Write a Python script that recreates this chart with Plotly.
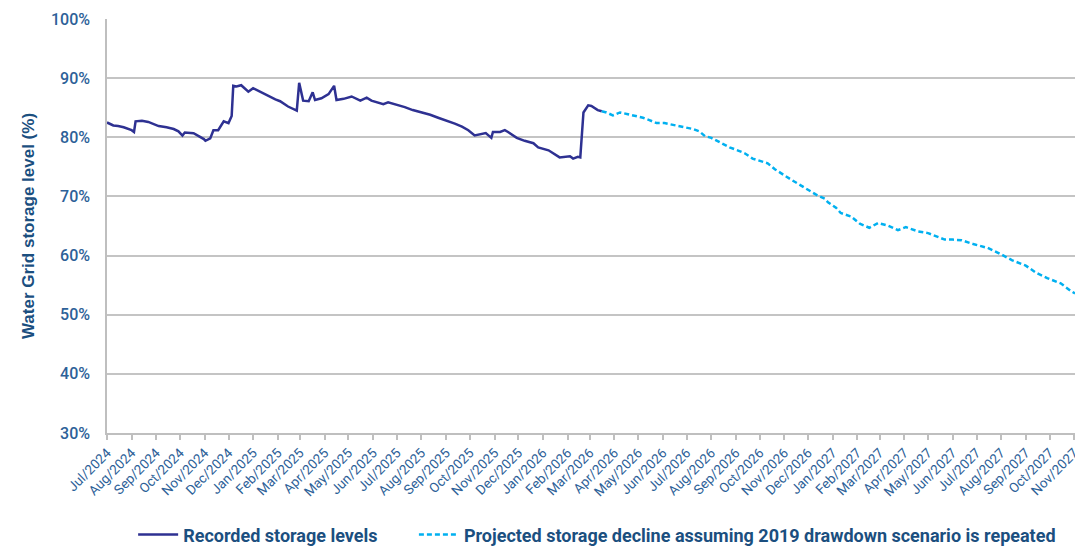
import plotly.graph_objects as go

# Recorded storage levels (%)
rec_dates = [
    "2024-07-01", "2024-07-09", "2024-07-15", "2024-07-22", "2024-08-01", "2024-08-04", "2024-08-06",
    "2024-08-14", "2024-08-22", "2024-09-04", "2024-09-14", "2024-09-23", "2024-09-29", "2024-10-04",
    "2024-10-07", "2024-10-18", "2024-10-31", "2024-11-02", "2024-11-08", "2024-11-12", "2024-11-18",
    "2024-11-25", "2024-12-01", "2024-12-05", "2024-12-07", "2024-12-11", "2024-12-17", "2024-12-26",
    "2025-01-01", "2025-01-08", "2025-01-14", "2025-01-22", "2025-01-29", "2025-02-04", "2025-02-14",
    "2025-02-25", "2025-02-28", "2025-03-05", "2025-03-12", "2025-03-17", "2025-03-20", "2025-03-28",
    "2025-04-06", "2025-04-13", "2025-04-16", "2025-04-25", "2025-05-05", "2025-05-16", "2025-05-24",
    "2025-05-30", "2025-06-14", "2025-06-20", "2025-06-29", "2025-07-11", "2025-07-21", "2025-08-01",
    "2025-08-12", "2025-08-22", "2025-09-02", "2025-09-12", "2025-09-21", "2025-09-29", "2025-10-07",
    "2025-10-16", "2025-10-21", "2025-10-28", "2025-10-30", "2025-11-08", "2025-11-14", "2025-11-18",
    "2025-11-29", "2025-12-09", "2025-12-20", "2025-12-26", "2026-01-08", "2026-01-22", "2026-01-31",
    "2026-02-04", "2026-02-08", "2026-02-14", "2026-02-17", "2026-02-21", "2026-02-27", "2026-03-03",
    "2026-03-11", "2026-03-16",
]
rec_values = [
    82.5, 82.0, 81.9, 81.7, 81.2, 80.9, 82.7,
    82.8, 82.6, 81.9, 81.7, 81.4, 81.0, 80.3,
    80.8, 80.7, 79.7, 79.4, 79.8, 81.2, 81.2,
    82.7, 82.4, 83.6, 88.7, 88.6, 88.8, 87.7,
    88.3, 87.8, 87.5, 86.9, 86.4, 86.1, 85.2,
    84.5, 89.2, 86.2, 86.1, 87.6, 86.3, 86.6,
    87.3, 88.7, 86.3, 86.5, 86.9, 86.2, 86.7,
    86.2, 85.6, 85.9, 85.6, 85.1, 84.6, 84.2,
    83.8, 83.3, 82.8, 82.3, 81.8, 81.2, 80.3,
    80.5, 80.7, 79.9, 80.9, 80.9, 81.2, 80.9,
    79.9, 79.4, 79.0, 78.3, 77.8, 76.6, 76.7,
    76.8, 76.4, 76.7, 76.6, 84.2, 85.4, 85.3,
    84.6, 84.4,
]

# Projected storage decline (2019 drawdown repeated), %
proj_dates = [
    "2026-03-16", "2026-03-22", "2026-03-30", "2026-04-08", "2026-04-18", "2026-04-29", "2026-05-07",
    "2026-05-15", "2026-05-24", "2026-06-03", "2026-06-18", "2026-06-28", "2026-07-09", "2026-07-17",
    "2026-07-24", "2026-08-01", "2026-08-13", "2026-08-24", "2026-09-03", "2026-09-12", "2026-09-22",
    "2026-10-03", "2026-10-11", "2026-10-20", "2026-10-30", "2026-11-10", "2026-11-20", "2026-12-01",
    "2026-12-11", "2026-12-22", "2026-12-26", "2027-01-05", "2027-01-11", "2027-01-24", "2027-02-04",
    "2027-02-16", "2027-02-27", "2027-03-11", "2027-03-24", "2027-04-03", "2027-04-18", "2027-05-01",
    "2027-05-22", "2027-06-01", "2027-06-12", "2027-06-28", "2027-07-15", "2027-08-01", "2027-08-15",
    "2027-09-01", "2027-09-14", "2027-09-28", "2027-10-15", "2027-10-28", "2027-11-02",
]
proj_values = [
    84.4, 84.2, 83.7, 84.2, 83.9, 83.6, 83.3,
    82.9, 82.4, 82.4, 82.0, 81.7, 81.4, 81.0,
    80.2, 79.9, 79.1, 78.3, 77.8, 77.3, 76.4,
    76.0, 75.6, 74.6, 73.7, 72.8, 72.0, 71.1,
    70.3, 69.6, 69.0, 68.1, 67.2, 66.6, 65.4,
    64.7, 65.5, 65.1, 64.3, 64.8, 64.1, 63.8,
    62.7, 62.7, 62.6, 61.9, 61.3, 60.2, 59.2,
    58.3, 57.1, 56.2, 55.3, 54.0, 53.6,
]

y_ticks = [30, 40, 50, 60, 70, 80, 90, 100]
y_tick_labels = ["30%", "40%", "50%", "60%", "70%", "80%", "90%", "100%"]

fig = go.Figure()
fig.add_trace(go.Scatter(
    x=rec_dates, y=rec_values, mode="lines",
    name="Recorded storage levels" + "\u00a0" * 7,
    line=dict(color="#2E3192", width=2.5),
))
fig.add_trace(go.Scatter(
    x=proj_dates, y=proj_values, mode="lines",
    name="Projected storage decline assuming 2019 drawdown scenario is repeated",
    line=dict(color="#00B0F0", width=2.5, dash="5px,3px"),
))

fig.update_layout(
    width=1075, height=547,
    margin=dict(l=107, r=0, t=19, b=114, autoexpand=False),
    paper_bgcolor="white", plot_bgcolor="white",
    font=dict(family="Roboto", color="#2D6198"),
    showlegend=True,
    legend=dict(
        orientation="h", x=0.027, xanchor="left", y=-0.246, yanchor="middle",
        font=dict(family="Roboto", size=18, color="#1B4F7F", weight="bold"),
        itemwidth=40, traceorder="normal",
    ),
    xaxis=dict(
        type="date", range=["2024-07-01", "2027-11-02"],
        dtick="M1", tick0="2024-07-01", tickformat="%b/%Y", tickangle=-45,
        ticks="outside", ticklen=5, tickcolor="#BFBFBF", tickwidth=1.5,
        showline=True, linecolor="#BFBFBF", linewidth=1.5,
        showgrid=False, automargin=False, ticklabeloverflow="allow",
        tickfont=dict(family="Roboto", size=13.5, color="#2D6198"),
    ),
    yaxis=dict(
        range=[30, 100], tickvals=y_ticks, ticktext=y_tick_labels,
        showgrid=True, gridcolor="#C4C4C4", gridwidth=1.5,
        showline=True, linecolor="#BFBFBF", linewidth=1.5,
        ticks="", zeroline=False, automargin=False, ticklabelstandoff=12,
        tickfont=dict(family="Roboto", size=16, color="#2D6198", weight=500),
        title=dict(text="Water Grid storage level (%)", standoff=12,
                   font=dict(family="Liberation Sans", size=17, color="#1B4F7F", weight="bold")),
    ),
)

# remove the default page margin so the figure fills the window exactly
fig.write_html(
    "out.html",
    config={"displayModeBar": False},
    post_script="document.body.style.margin='0';document.body.style.overflow='hidden';",
)
